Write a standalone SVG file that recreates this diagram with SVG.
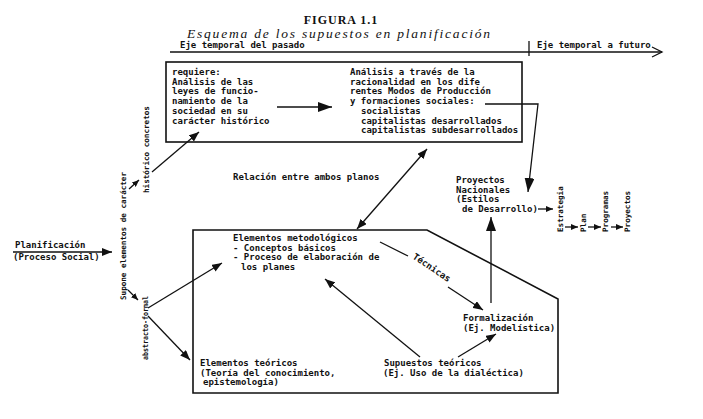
<svg xmlns="http://www.w3.org/2000/svg" width="703" height="419" viewBox="0 0 703 419">
<defs>
<style>
.t{font-family:"DejaVu Sans Mono","Liberation Mono",monospace;font-weight:bold;font-size:9px;fill:#111}
.v{font-family:"DejaVu Sans Mono","Liberation Mono",monospace;font-weight:bold;font-size:7.6px;fill:#111}
.ln{stroke:#111;stroke-width:1.3;fill:none}
.bx{stroke:#111;stroke-width:1.6;fill:none}
</style>
<marker id="ah" viewBox="0 0 10 8" refX="10" refY="4" markerWidth="10" markerHeight="8" orient="auto-start-reverse" markerUnits="userSpaceOnUse"><path d="M0,0 L10,4 L0,8 Z" fill="#111"/></marker>
<marker id="ab" viewBox="0 0 14 10" refX="14" refY="5" markerWidth="14" markerHeight="10" orient="auto" markerUnits="userSpaceOnUse"><path d="M0,0 L14,5 L0,10 Z" fill="#111"/></marker>
<marker id="as" viewBox="0 0 7 6" refX="7" refY="3" markerWidth="7" markerHeight="6" orient="auto" markerUnits="userSpaceOnUse"><path d="M0,0 L7,3 L0,6 Z" fill="#111"/></marker>
</defs>
<rect width="703" height="419" fill="#fff"/>

<g id="title">
<text x="341" y="24" text-anchor="middle" font-family="Liberation Serif,serif" font-weight="bold" font-size="12" letter-spacing="1" fill="#111">FIGURA 1.1</text>
<text x="187" y="38" font-family="Liberation Serif,serif" font-style="italic" font-size="13.5" fill="#111" textLength="303" lengthAdjust="spacing">Esquema de los supuestos en planificación</text>
</g>

<g id="axis">
<text class="t" x="180" y="48">Eje temporal del pasado</text>
<text class="t" x="537" y="48">Eje temporal a futuro</text>
<line class="ln" x1="170" y1="52" x2="662" y2="52"/>
<line class="ln" x1="529" y1="41" x2="529" y2="56"/>
<path class="ln" d="M652,47 L662,52 L652,57"/>
</g>

<g id="top-box">
<rect class="bx" x="166" y="62" width="356" height="80"/>
<text class="t" x="172" y="75">requiere:</text>
<text class="t" x="172" y="84.7">Análisis de las</text>
<text class="t" x="172" y="94.4">leyes de funcio-</text>
<text class="t" x="172" y="104.1">namiento de la</text>
<text class="t" x="172" y="113.8">sociedad en su</text>
<text class="t" x="172" y="123.5">carácter histórico</text>
<text class="t" x="350" y="75">Análisis a través de la</text>
<text class="t" x="350" y="84.7">racionalidad en los dife</text>
<text class="t" x="350" y="94.4">rentes Modos de Producción</text>
<text class="t" x="350" y="104.1">y formaciones sociales:</text>
<text class="t" x="361" y="113.8">socialistas</text>
<text class="t" x="361" y="123.5">capitalistas desarrollados</text>
<text class="t" x="361" y="133.2">capitalistas subdesarrollados</text>
</g>

<g id="planificacion">
<text class="t" x="15" y="248">Planificación</text>
<text class="t" x="13" y="260">(Proceso Social)</text>
</g>

<g id="supone">
<text class="v" transform="translate(126,300) rotate(-90)">Supone elementos de carácter</text>
<text class="v" transform="translate(149,193) rotate(-90)">histórico concretos</text>
<text class="v" transform="translate(148,360) rotate(-90)" textLength="64" lengthAdjust="spacingAndGlyphs">abstracto-formal</text>
</g>

<g id="relacion">
<text class="t" x="233" y="180">Relación entre ambos planos</text>
</g>

<g id="bottom-box">
<path class="bx" d="M193,230 H427 L558,299 V393 H193 Z"/>
<text class="t" x="233" y="241">Elementos metodológicos</text>
<text class="t" x="233" y="250.7">- Conceptos básicos</text>
<text class="t" x="233" y="260.4">- Proceso de elaboración de</text>
<text class="t" x="241" y="270.1">los planes</text>
<text class="t" x="200" y="366">Elementos teóricos</text>
<text class="t" x="200" y="375.7">(Teoría del conocimiento,</text>
<text class="t" x="203" y="385.4">epistemología)</text>
<text class="t" x="384" y="366">Supuestos teóricos</text>
<text class="t" x="383" y="375.7">(Ej. Uso de la dialéctica)</text>
<text class="t" x="463" y="321">Formalización</text>
<text class="t" x="463" y="330.7">(Ej. Modelística)</text>
<text class="t" transform="translate(412,258) rotate(34)">Técnicas</text>
</g>

<g id="proyectos-nacionales">
<text class="t" x="456" y="183">Proyectos</text>
<text class="t" x="456" y="192.7">Nacionales</text>
<text class="t" x="456" y="202.4">(Estilos</text>
<text class="t" x="462" y="212.1">de Desarrollo)</text>
</g>

<g id="secuencia">
<text class="v" transform="translate(563,232) rotate(-90)">Estrategia</text>
<text class="v" transform="translate(586,232) rotate(-90)">Plan</text>
<text class="v" transform="translate(608,232) rotate(-90)">Programas</text>
<text class="v" transform="translate(630,232) rotate(-90)">Proyectos</text>
</g>

<g id="connectors">
<line class="ln" x1="277" y1="107" x2="332" y2="107" marker-end="url(#ab)"/>
<line class="ln" x1="13" y1="252" x2="112" y2="252" marker-end="url(#ah)"/>
<line class="ln" x1="129" y1="189" x2="139" y2="180" marker-end="url(#as)"/>
<line class="ln" x1="152" y1="172" x2="199" y2="132" marker-end="url(#ah)"/>
<line class="ln" x1="128" y1="290" x2="138" y2="300" marker-end="url(#as)"/>
<line class="ln" x1="148" y1="308" x2="222" y2="263" marker-end="url(#ah)"/>
<line class="ln" x1="148" y1="316" x2="190" y2="360" marker-end="url(#ah)"/>
<line class="ln" x1="427" y1="149" x2="357" y2="229" marker-start="url(#ah)" marker-end="url(#ah)"/>
<polyline class="ln" points="485,104 538,104 528,192" marker-end="url(#ab)"/>
<line class="ln" x1="491" y1="303" x2="491" y2="217" marker-end="url(#ab)"/>
<line class="ln" x1="380" y1="242" x2="408" y2="256"/>
<line class="ln" x1="448" y1="287" x2="483" y2="310" marker-end="url(#ah)"/>
<line class="ln" x1="420" y1="357" x2="325" y2="279" marker-end="url(#ah)"/>
<line class="ln" x1="458" y1="357" x2="496" y2="334" marker-end="url(#ah)"/>
<line class="ln" x1="538" y1="209" x2="553" y2="209" marker-end="url(#as)"/>
<line class="ln" x1="565" y1="227" x2="578" y2="227" marker-end="url(#as)"/>
<line class="ln" x1="588" y1="227" x2="601" y2="227" marker-end="url(#as)"/>
<line class="ln" x1="611" y1="227" x2="623" y2="227" marker-end="url(#as)"/>
</g>
</svg>
